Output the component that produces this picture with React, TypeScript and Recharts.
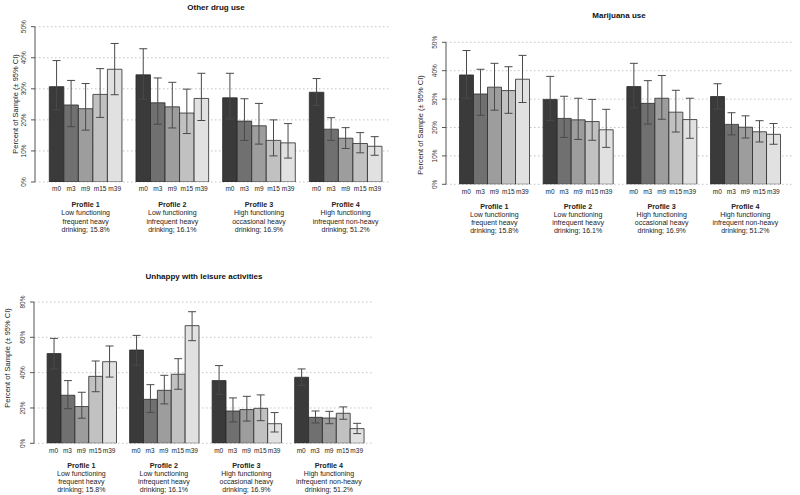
import { Bar, BarChart, CartesianGrid, ErrorBar, XAxis, YAxis } from "recharts";

const FONT = '"Liberation Sans", Arial, Helvetica, sans-serif';

const profiles = ["Profile 1", "Profile 2", "Profile 3", "Profile 4"];
const profileLines = [
  ["Low functioning", "frequent heavy", "drinking; 15.8%"],
  ["Low functioning", "infrequent heavy", "drinking; 16.1%"],
  ["High functioning", "occasional heavy", "drinking; 16.9%"],
  ["High functioning", "infrequent non-heavy", "drinking; 51.2%"],
];
const waves = ["m0", "m3", "m9", "m15", "m39"];
const waveColors = ["#3a3a3a", "#707070", "#9d9d9d", "#c1c1c1", "#e1e1e1"];

// Other drug use (%), rows = profiles, cols = waves
const drugEst = [
  [30.7, 24.8, 23.6, 28.2, 36.3],
  [34.5, 25.5, 24.2, 22.2, 26.9],
  [27.1, 19.6, 18.1, 13.4, 12.6],
  [28.9, 17.0, 14.1, 12.4, 11.5],
];
const drugLo = [
  [23.2, 17.8, 16.7, 20.8, 28.1],
  [26.7, 18.6, 17.4, 15.6, 19.8],
  [20.3, 13.4, 12.2, 8.4, 7.7],
  [24.7, 13.4, 10.8, 9.4, 8.6],
];
const drugHi = [
  [39.1, 32.7, 31.7, 36.5, 44.6],
  [42.9, 33.5, 32.1, 29.9, 35.0],
  [35.0, 26.8, 25.3, 20.0, 18.8],
  [33.3, 20.7, 17.5, 15.9, 14.6],
];

// Marijuana use (%)
const marEst = [
  [38.5, 31.8, 34.2, 33.0, 37.0],
  [29.9, 23.2, 22.7, 22.1, 19.2],
  [34.4, 28.5, 30.3, 25.4, 22.8],
  [30.9, 21.1, 20.1, 18.5, 17.6],
];
const marLo = [
  [30.3, 24.3, 26.1, 25.0, 28.8],
  [22.5, 16.5, 15.8, 15.5, 13.0],
  [26.9, 21.2, 22.9, 18.4, 16.2],
  [26.5, 17.4, 16.3, 14.9, 14.1],
];
const marHi = [
  [47.1, 40.5, 42.6, 41.4, 45.4],
  [38.0, 31.0, 30.3, 29.9, 26.4],
  [42.6, 36.5, 38.3, 33.1, 30.3],
  [35.4, 25.2, 24.1, 22.4, 21.4],
];

// Unhappy with leisure activities (%)
const leisEst = [
  [50.8, 27.2, 20.8, 37.9, 46.2],
  [52.8, 24.9, 30.0, 39.1, 66.6],
  [35.5, 18.3, 19.1, 19.8, 11.1],
  [37.4, 14.7, 14.3, 17.0, 8.3],
];
const leisLo = [
  [42.1, 19.6, 14.2, 29.2, 37.5],
  [44.2, 17.5, 22.3, 30.6, 58.1],
  [27.7, 12.1, 12.6, 12.8, 6.4],
  [32.8, 11.5, 11.1, 13.6, 5.5],
];
const leisHi = [
  [59.4, 35.5, 28.9, 46.6, 55.1],
  [61.1, 33.2, 38.5, 47.9, 74.5],
  [44.0, 25.7, 26.6, 27.4, 17.4],
  [42.1, 18.3, 18.1, 20.6, 11.3],
];

const drugTicks = [0, 10, 20, 30, 40, 50];
const marTicks = [0, 10, 20, 30, 40, 50];
const leisTicks = [0, 20, 40, 60, 80];

function buildRows(est: number[][], lo: number[][], hi: number[][]) {
  return profiles.map((p, i) => {
    const row: Record<string, any> = { profile: p, idx: i };
    waves.forEach((w, j) => {
      row[w] = est[i][j];
      row[w + "_err"] = [est[i][j] - lo[i][j], hi[i][j] - est[i][j]];
    });
    return row;
  });
}

interface PanelProps {
  title: string;
  rows: Record<string, any>[];
  ticks: number[];
  box: { left: number; top: number; width: number; height: number };
  plot: { left: number; top: number; right: number; bottom: number };
  padL: number;
  padR: number;
  barSize: number;
  titlePos: [number, number];
  yLabelPos: [number, number];
  mDy: number;
  profDy: number;
  lineGap: number;
}

function Panel(props: PanelProps) {
  const { box, plot, barSize } = props;
  const margin = {
    top: plot.top - box.top,
    right: box.left + box.width - plot.right,
    bottom: 0,
    left: 0,
  };
  const yWidth = plot.left - box.left;
  const xHeight = box.top + box.height - plot.bottom;

  const ProfileTick = (t: any) => {
    const { x, y, payload } = t;
    const i = profiles.indexOf(payload.value);
    return (
      <g fontFamily={FONT} fill="#222" textAnchor="middle">
        {waves.map((w, j) => (
          <text key={w} x={x + (j - 2) * barSize} y={y + props.mDy} dominantBaseline="central" fontSize={6.5}>
            {w}
          </text>
        ))}
        <text x={x} y={y + props.profDy} dominantBaseline="central" fontSize={7.2} fontWeight="bold">
          {payload.value}
        </text>
        {profileLines[i].map((line, k) => (
          <text key={k} x={x} y={y + props.profDy + (k + 1) * props.lineGap} dominantBaseline="central" fontSize={7}>
            {line}
          </text>
        ))}
      </g>
    );
  };

  const PctTick = (t: any) => {
    const { x, y, payload } = t;
    const tx = x - 5;
    return (
      <text
        x={tx}
        y={y}
        transform={`rotate(-90 ${tx} ${y})`}
        textAnchor="middle"
        fontFamily={FONT}
        fontSize={6.5}
        fill="#333"
      >
        {payload.value}%
      </text>
    );
  };

  return (
    <>
      <div
        style={{
          position: "absolute",
          left: props.titlePos[0],
          top: props.titlePos[1],
          transform: "translate(-50%, -50%)",
          fontFamily: FONT,
          fontWeight: "bold",
          fontSize: 8,
          whiteSpace: "nowrap",
          color: "#111",
        }}
      >
        {props.title}
      </div>
      <div
        style={{
          position: "absolute",
          left: props.yLabelPos[0],
          top: props.yLabelPos[1],
          transform: "translate(-50%, -50%) rotate(-90deg)",
          fontFamily: FONT,
          fontSize: 7.5,
          whiteSpace: "nowrap",
          color: "#222",
        }}
      >
        Percent of Sample (± 95% CI)
      </div>
      <div style={{ position: "absolute", left: box.left, top: box.top }}>
        <BarChart
          width={box.width}
          height={box.height}
          data={props.rows}
          margin={margin}
          barGap={0}
          barSize={barSize}
        >
          <CartesianGrid vertical={false} stroke="#c4c4c4" strokeDasharray="1.5 2.5" />
          <XAxis
            dataKey="profile"
            type="category"
            height={xHeight}
            axisLine={false}
            tickLine={false}
            tickSize={0}
            tickMargin={0}
            interval={0}
            padding={{ left: props.padL, right: props.padR }}
            tick={ProfileTick}
          />
          <YAxis
            width={yWidth}
            domain={[0, props.ticks[props.ticks.length - 1]]}
            ticks={props.ticks}
            allowDataOverflow
            stroke="#555"
            tickSize={4}
            tickMargin={0}
            tick={PctTick}
          />
          {waves.map((w, j) => (
            <Bar
              key={w}
              dataKey={w}
              fill={waveColors[j]}
              stroke="#2a2a2a"
              strokeWidth={0.8}
              isAnimationActive={false}
            >
              <ErrorBar dataKey={w + "_err"} width={4} stroke="#4a4a4a" strokeWidth={1} direction="y" />
            </Bar>
          ))}
        </BarChart>
      </div>
    </>
  );
}

export default function App() {
  return (
    <div
      style={{
        position: "absolute",
        left: 0,
        top: 0,
        width: 800,
        height: 495,
        background: "#fff",
        overflow: "hidden",
      }}
    >
      <Panel
        title="Other drug use"
        rows={buildRows(drugEst, drugLo, drugHi)}
        ticks={drugTicks}
        box={{ left: 0, top: 0, width: 400, height: 245 }}
        plot={{ left: 35, top: 26.7, right: 390, bottom: 182 }}
        padL={7.3}
        padR={1}
        barSize={14.53}
        titlePos={[216, 7]}
        yLabelPos={[15, 104]}
        mDy={6.3}
        profDy={22}
        lineGap={8.6}
      />
      <Panel
        title="Marijuana use"
        rows={buildRows(marEst, marLo, marHi)}
        ticks={marTicks}
        box={{ left: 400, top: 0, width: 400, height: 245 }}
        plot={{ left: 446, top: 42.3, right: 792, bottom: 184.3 }}
        padL={6.5}
        padR={4.8}
        barSize={14}
        titlePos={[619, 15]}
        yLabelPos={[420, 125]}
        mDy={6.7}
        profDy={22.4}
        lineGap={7.9}
      />
      <Panel
        title="Unhappy with leisure activities"
        rows={buildRows(leisEst, leisLo, leisHi)}
        ticks={leisTicks}
        box={{ left: 0, top: 260, width: 400, height: 235 }}
        plot={{ left: 34, top: 302, right: 372, bottom: 443.3 }}
        padL={6.1}
        padR={1.8}
        barSize={13.88}
        titlePos={[204, 275.7]}
        yLabelPos={[7, 358]}
        mDy={7.4}
        profDy={22}
        lineGap={8}
      />
    </div>
  );
}
